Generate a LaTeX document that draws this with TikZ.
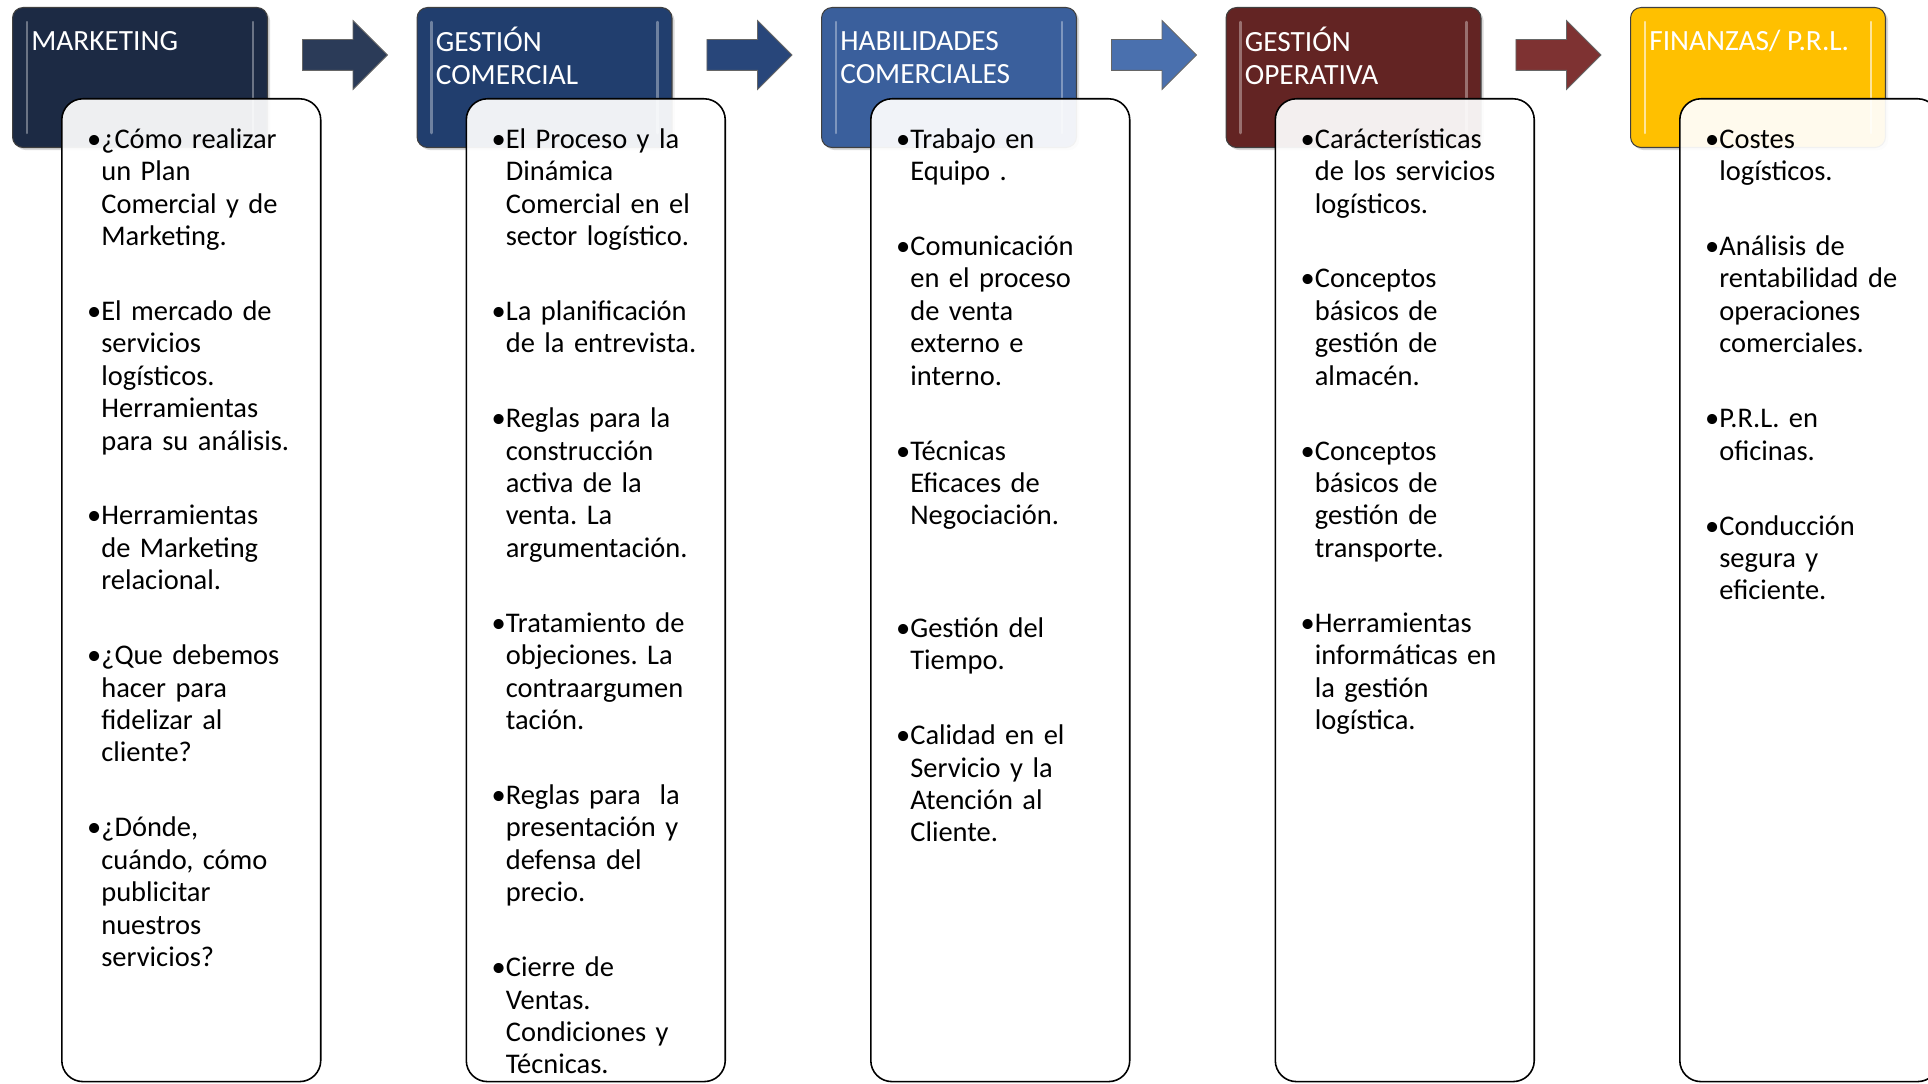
\documentclass[tikz,border=0pt]{standalone}
\usepackage{fontspec}
\setmainfont{Carlito}
\usepackage{tikz}
\usetikzlibrary{positioning, calc, shapes.arrows, shadows}
\frenchspacing

\definecolor{mktnavy}{HTML}{1C2A44}
\definecolor{comblue}{HTML}{213E6E}
\definecolor{habblue}{HTML}{3A5F9C}
\definecolor{opred}{HTML}{632423}
\definecolor{fingold}{HTML}{FFC000}
\definecolor{arrnavy}{HTML}{2B3B58}
\definecolor{arrblue}{HTML}{28467A}
\definecolor{arrlight}{HTML}{4A70AE}
\definecolor{arrred}{HTML}{7E3232}

\newcommand{\itm}[1]{\par\noindent\llap{\textbullet}\strut#1\par}

\begin{document}
\begin{tikzpicture}[
    x=0.02cm, y=-0.02cm,
    header/.style={rectangle, fill=#1, draw=black!75, line width=0.6pt, rounded corners=6pt, minimum width=5.1cm, minimum height=2.8cm, anchor=north west, drop shadow={opacity=0.3, shadow xshift=1.5pt, shadow yshift=-1.5pt}},
    headtext/.style={anchor=north west, inner sep=0pt, align=left, text=white, font=\fontsize{16.7}{18.8}\selectfont},
    card/.style={rectangle, draw=black, line width=0.9pt, fill=white, fill opacity=0.93, rounded corners=12pt, minimum width=5.18cm, minimum height=19.66cm, anchor=north west},
    body/.style={anchor=north west, inner sep=0pt, text width=4.8cm, align=left, font=\fontsize{16.2}{18.45}\selectfont, execute at begin node={\setlength{\parskip}{0.85cm}}},
    blockarrow/.style={single arrow, fill=#1, draw=black!60, line width=0.5pt, inner sep=0.3cm, single arrow head extend=0.38cm, minimum height=1.7cm, single arrow tip angle=90},
    gloss/.style={draw=white, line width=1.4pt, opacity=0.35, line cap=round},
]
\useasboundingbox (0,0) rectangle (1928,1084);

% ---- Headers ----
\node[header=mktnavy] (h1) at (12, 7) {};
\node[header=comblue] (h2) at (416.5, 7) {};
\node[header=habblue] (h3) at (821, 7) {};
\node[header=opred] (h4) at (1225.5, 7) {};
\node[header=fingold] (h5) at (1630, 7) {};

% ---- Gloss strips ----
\draw[gloss] ([xshift=0.3cm, yshift=-0.3cm]h1.north west) -- ([xshift=0.3cm, yshift=0.3cm]h1.south west) ([xshift=-0.3cm, yshift=-0.3cm]h1.north east) -- ([xshift=-0.3cm, yshift=0.3cm]h1.south east);
\draw[gloss] ([xshift=0.3cm, yshift=-0.3cm]h2.north west) -- ([xshift=0.3cm, yshift=0.3cm]h2.south west) ([xshift=-0.3cm, yshift=-0.3cm]h2.north east) -- ([xshift=-0.3cm, yshift=0.3cm]h2.south east);
\draw[gloss] ([xshift=0.3cm, yshift=-0.3cm]h3.north west) -- ([xshift=0.3cm, yshift=0.3cm]h3.south west) ([xshift=-0.3cm, yshift=-0.3cm]h3.north east) -- ([xshift=-0.3cm, yshift=0.3cm]h3.south east);
\draw[gloss] ([xshift=0.3cm, yshift=-0.3cm]h4.north west) -- ([xshift=0.3cm, yshift=0.3cm]h4.south west) ([xshift=-0.3cm, yshift=-0.3cm]h4.north east) -- ([xshift=-0.3cm, yshift=0.3cm]h4.south east);
\draw[gloss, opacity=0.6] ([xshift=0.3cm, yshift=-0.3cm]h5.north west) -- ([xshift=0.3cm, yshift=0.3cm]h5.south west) ([xshift=-0.3cm, yshift=-0.3cm]h5.north east) -- ([xshift=-0.3cm, yshift=0.3cm]h5.south east);

% ---- Header titles ----
\node[headtext] (t1) at ([xshift=0.38cm, yshift=-0.4cm]h1.north west) {\strut MARKETING};
\node[headtext] (t2) at ([xshift=0.38cm, yshift=-0.4cm]h2.north west) {\strut GESTIÓN\\COMERCIAL};
\node[headtext] (t3) at ([xshift=0.38cm, yshift=-0.4cm]h3.north west) {\strut HABILIDADES\\COMERCIALES};
\node[headtext] (t4) at ([xshift=0.38cm, yshift=-0.4cm]h4.north west) {\strut GESTIÓN\\OPERATIVA};
\node[headtext] (t5) at ([xshift=0.38cm, yshift=-0.4cm]h5.north west) {\strut FINANZAS/ P.R.L.};

% ---- Arrows between headers ----
\node[blockarrow=arrnavy] (a1) at ($(h1.north east)!0.5!(h2.north west) + (-5, 48)$) {};
\node[blockarrow=arrblue] (a2) at ($(h2.north east)!0.5!(h3.north west) + (-5, 48)$) {};
\node[blockarrow=arrlight] (a3) at ($(h3.north east)!0.5!(h4.north west) + (-5, 48)$) {};
\node[blockarrow=arrred] (a4) at ($(h4.north east)!0.5!(h5.north west) + (-5, 48)$) {};

% ---- Content cards ----
\node[card] (b1) at (61, 98) {};
\node[card] (b2) at (465.5, 98) {};
\node[card] (b3) at (870, 98) {};
\node[card] (b4) at (1274.5, 98) {};
\node[card] (b5) at (1679, 98) {};

% ---- Card texts ----
\node[body] (c1) at ([xshift=0.8cm, yshift=0.5cm]b1.north west) {%
\itm{¿Cómo realizar\\un Plan\\Comercial y de\\Marketing.}
\itm{El mercado de\\servicios\\logísticos.\\Herramientas\\para su análisis.}
\itm{Herramientas\\de Marketing\\relacional.}
\itm{¿Que debemos\\hacer para\\fidelizar al\\cliente?}
\itm{¿Dónde,\\cuándo, cómo\\publicitar\\nuestros\\servicios?}};

\node[body] (c2) at ([xshift=0.8cm, yshift=0.5cm]b2.north west) {%
\itm{El Proceso y la\\Dinámica\\Comercial en el\\sector logístico.}
\itm{La planificación\\de la entrevista.}
\itm{Reglas para la\\construcción\\activa de la\\venta. La\\argumentación.}
\itm{Tratamiento de\\objeciones. La\\contraargumen\\tación.}
\itm{Reglas para\ \ la\\presentación y\\defensa del\\precio.}
\itm{Cierre de\\Ventas.\\Condiciones y\\Técnicas.}};

\node[body] (c3) at ([xshift=0.8cm, yshift=0.5cm]b3.north west) {%
\itm{Trabajo en\\Equipo .}
\itm{Comunicación\\en el proceso\\de venta\\externo e\\interno.}
\itm{Técnicas\\Eficaces de\\Negociación.}
\vspace{0.75cm}
\itm{Gestión del\\Tiempo.}
\itm{Calidad en el\\Servicio y la\\Atención al\\Cliente.}};

\node[body] (c4) at ([xshift=0.8cm, yshift=0.5cm]b4.north west) {%
\itm{Carácterísticas\\de los servicios\\logísticos.}
\itm{Conceptos\\básicos de\\gestión de\\almacén.}
\itm{Conceptos\\básicos de\\gestión de\\transporte.}
\itm{Herramientas\\informáticas en\\la gestión\\logística.}};

\node[body] (c5) at ([xshift=0.8cm, yshift=0.5cm]b5.north west) {%
\itm{Costes\\logísticos.}
\itm{Análisis de\\rentabilidad de\\operaciones\\comerciales.}
\itm{P.R.L. en\\oficinas.}
\itm{Conducción\\segura y\\eficiente.}};

\end{tikzpicture}
\end{document}
